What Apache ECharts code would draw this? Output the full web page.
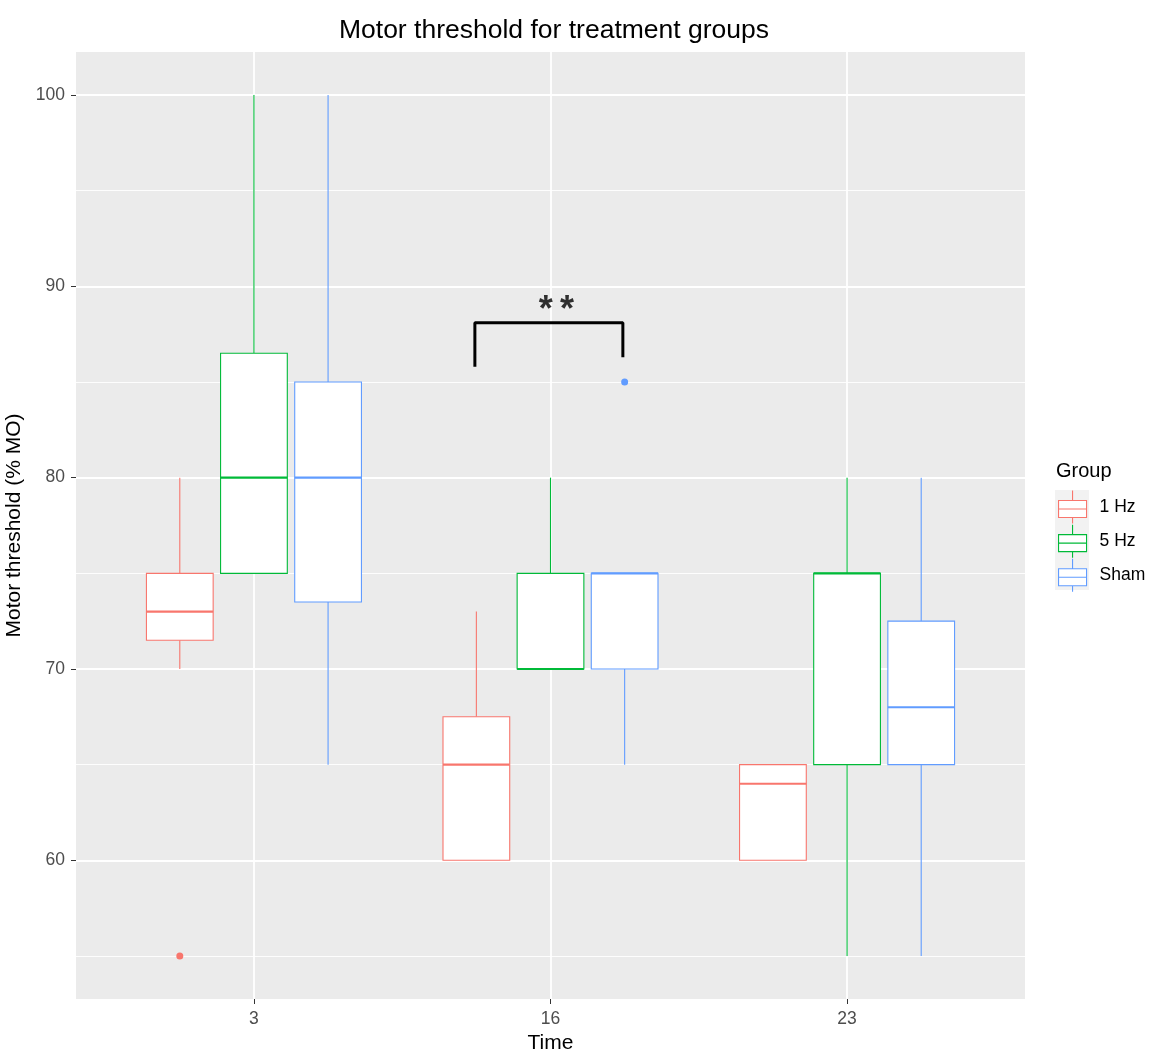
<!DOCTYPE html>
<html>
<head>
<meta charset="utf-8">
<script src="https://cdn.jsdelivr.net/npm/echarts@6/dist/echarts.min.js"></script>
<style>
  html, body { margin: 0; padding: 0; background: #fff; }
  #chart { width: 1153px; height: 1053px; }
</style>
</head>
<body>
<div id="chart"></div>
<script>
// time points and groups
const times = ['3', '16', '23']
const groups = ['1 Hz', '5 Hz', 'Sham']
const colors = ['#F8766D', '#00BA38', '#619CFF']

// [low whisker, Q1, median, Q3, high whisker] per time point
const hz1Stats = [[70, 71.5, 73, 75, 80], [60, 60, 65, 67.5, 73], [60, 60, 64, 65, 65]]
const hz5Stats = [[75, 75, 80, 86.5, 100], [70, 70, 70, 75, 80], [55, 65, 75, 75, 80]]
const shamStats = [[65, 73.5, 80, 85, 100], [65, 70, 75, 75, 75], [55, 65, 68, 72.5, 80]]

// outliers: [time index, value]
const hz1Outliers = [[0, 55]]
const hz5Outliers = []
const shamOutliers = [[1, 85]]

// significance bracket between 1 Hz and Sham at t=16
const bracket = [[1.745, 85.8], [1.745, 88.1], [2.244, 88.1], [2.244, 86.3]]
const starsPos = [2.02, 88.7]

const yLabels = [60, 70, 80, 90, 100]
const yMinor = [55, 65, 75, 85, 95]

const DODGE = 0.25
const BOX_W = 0.225
const allStats = [hz1Stats, hz5Stats, shamStats]
const allOutliers = [hz1Outliers, hz5Outliers, shamOutliers]

function boxRender(offset, color) {
  return function (params, api) {
    const x = api.value(0) + offset
    const cx = api.coord([x, 0])[0]
    const left = api.coord([x - BOX_W / 2, 0])[0]
    const right = api.coord([x + BOX_W / 2, 0])[0]
    const y = i => api.coord([x, api.value(i)])[1]
    const yLo = y(1), yQ1 = y(2), yMed = y(3), yQ3 = y(4), yHi = y(5)
    const line = { stroke: color, lineWidth: 1.1 }
    return {
      type: 'group',
      children: [
        { type: 'line', shape: { x1: cx, y1: yQ1, x2: cx, y2: yLo }, style: line },
        { type: 'line', shape: { x1: cx, y1: yQ3, x2: cx, y2: yHi }, style: line },
        { type: 'rect', shape: { x: left, y: yQ3, width: right - left, height: yQ1 - yQ3 },
          style: { fill: '#fff', stroke: color, lineWidth: 1.1 } },
        { type: 'line', shape: { x1: left, y1: yMed, x2: right, y2: yMed },
          style: { stroke: color, lineWidth: 2.2 } },
      ],
    }
  }
}

const series = []
groups.forEach((g, gi) => {
  const offset = (gi - 1) * DODGE
  series.push({
    name: g,
    type: 'custom',
    renderItem: boxRender(offset, colors[gi]),
    itemStyle: { color: '#fff', borderColor: colors[gi], borderWidth: 1 },
    encode: { x: 0, y: [1, 2, 3, 4, 5] },
    data: allStats[gi].map((s, ti) => [ti + 1, ...s]),
    z: 3,
  })
  if (allOutliers[gi].length) {
    series.push({
      type: 'scatter',
      symbolSize: 7,
      itemStyle: { color: colors[gi], opacity: 1 },
      data: allOutliers[gi].map(([ti, v]) => [ti + 1 + offset, v]),
      z: 4,
    })
  }
})

series.push({
  type: 'line',
  data: bracket,
  symbol: 'none',
  lineStyle: { color: '#000', width: 3 },
  z: 5,
})
series.push({
  type: 'scatter',
  data: [starsPos],
  symbolSize: 0,
  label: {
    show: true, position: 'inside', formatter: '*\u2009*',
    color: '#000', fontSize: 36, fontWeight: 'bold', fontFamily: 'Liberation Sans',
  },
  z: 5,
})

const chart = echarts.init(document.getElementById('chart'), null, { renderer: 'canvas' })

const legendIcon = 'path://M14,0 L14,10 M0,10 L28,10 L28,27 L0,27 Z M0,18.5 L28,18.5 M14,27 L14,33'

chart.setOption({
  backgroundColor: '#fff',
  animation: false,
  textStyle: { fontFamily: 'Liberation Sans' },
  title: [
    {
      text: 'Motor threshold for treatment groups',
      left: 549, top: 12, textAlign: 'center',
      textStyle: { fontSize: 26.5, fontWeight: 'normal', color: '#000', fontFamily: 'Liberation Sans' },
    },
    {
      text: 'Group',
      left: 1051, top: 456,
      textStyle: { fontSize: 20, fontWeight: 'normal', color: '#000', fontFamily: 'Liberation Sans' },
    },
  ],
  graphic: [
    { type: 'rect', left: 1055, top: 490, shape: { width: 34, height: 100 }, style: { fill: '#F2F2F2' }, z: -1 },
  ],
  legend: {
    orient: 'vertical',
    left: 1053,
    top: 485,
    itemWidth: 28,
    itemHeight: 33,
    itemGap: 0,
    icon: legendIcon,
    data: groups.map((g, gi) => ({
      name: g,
      itemStyle: { color: '#fff', borderColor: colors[gi], borderWidth: 1.1 },
    })),
    textStyle: { fontSize: 17.5, color: '#000', padding: [0, 0, 0, 8], fontFamily: 'Liberation Sans' },
  },
  grid: {
    left: 76, right: 128, top: 52, bottom: 54,
    outerBoundsMode: 'none', containLabel: false,
    show: true, backgroundColor: '#EBEBEB', borderWidth: 0,
  },
  xAxis: [{
    type: 'value',
    min: 0.4, max: 3.6,
    name: 'Time',
    nameLocation: 'middle',
    nameGap: 32,
    nameTextStyle: { fontSize: 21, color: '#000' },
    axisLine: { show: false },
    axisTick: { show: true, customValues: [1, 2, 3], length: 5, lineStyle: { color: '#333' } },
    axisLabel: { customValues: [1, 2, 3], formatter: v => times[Math.round(v) - 1], fontSize: 17.5, color: '#4D4D4D', margin: 11 },
    splitLine: { show: true, lineStyle: { color: '#fff', width: 1.8 } },
  }],
  yAxis: [
    {
      type: 'value',
      min: 52.75, max: 102.25,
      name: 'Motor threshold (% MO)',
      nameLocation: 'middle',
      nameGap: 41,
      nameTextStyle: { fontSize: 21, color: '#000' },
      axisLine: { show: false },
      axisTick: { show: true, customValues: yLabels, length: 5, lineStyle: { color: '#333' } },
      axisLabel: { customValues: yLabels, fontSize: 17.5, color: '#4D4D4D', margin: 11 },
      splitLine: { show: true, lineStyle: { color: '#fff', width: 1.8 } },
    },
    {
      type: 'value',
      min: 52.75, max: 102.25,
      position: 'left',
      axisLine: { show: false },
      axisTick: { show: false, customValues: yMinor },
      axisLabel: { show: false, customValues: yMinor },
      splitLine: { show: true, lineStyle: { color: '#fff', width: 0.9 } },
    },
  ],
  series,
})
</script>
</body>
</html>
